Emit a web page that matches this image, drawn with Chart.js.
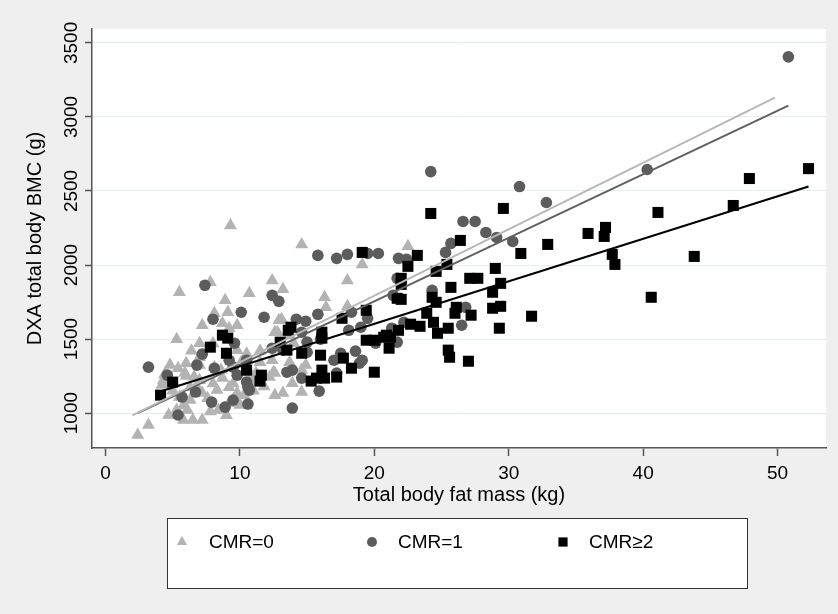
<!DOCTYPE html>
<html>
<head>
<meta charset="UTF-8">
<script src="https://cdn.jsdelivr.net/npm/chart.js@4.4.1/dist/chart.umd.min.js"></script>
<title>BMC vs fat mass</title>
<style>
	body { margin: 0; background: #efefef; }
	#wrap { width: 838px; height: 614px; }
</style>
</head>
<body>
	<div id="wrap">
		<canvas id="scatterChart" width="838" height="614"></canvas>
	</div>
	<script>
		// CMR=0 (triangles)
		var cmr0Fat = [9.3, 5.5, 7.8, 8.9, 9.1, 8.1, 7.2, 9.8, 5.3, 7.0, 8.7, 9.2, 13.1, 12.6, 13.7, 4.8, 6.0, 4.3, 5.9, 7.0,
			7.0, 8.1, 9.8, 10.1, 11.5, 12.6, 13.2, 8.7, 9.2, 9.8, 8.3, 7.2, 6.3, 5.5, 5.3, 6.1, 4.7, 5.8, 6.5, 7.2,
			3.2, 2.4, 8.4, 9.2, 10.0, 12.6, 4.8, 5.4, 6.3, 7.0, 10.7, 11.2, 12.2, 14.6, 19.1, 12.4, 10.7, 13.2, 18.0, 16.3,
			16.4, 18.0, 13.7, 14.6, 13.9, 14.6, 22.5, 12.9, 12.4, 12.5, 14.9, 12.8, 10.7, 11.0, 14.0, 15.0, 4.4, 6.6,
			6.0, 6.8, 7.6, 8.0, 8.6, 9.5, 10.3, 11.0, 11.8, 5.0, 5.8, 7.8, 10.5, 11.5, 6.4, 8.0, 4.2, 9.0];
		var cmr0Bmc = [2267, 1816, 1883, 1762, 1681, 1674, 1593, 1593, 1499, 1472, 1607, 1573, 1634, 1546, 1526, 1324, 1337, 1222, 1270, 1377,
			1324, 1310, 1425, 1344, 1344, 1270, 1135, 1236, 1175, 1135, 1155, 1135, 1088, 1108, 1020, 1020, 987, 953, 953, 953,
			919, 852, 1020, 1067, 1054, 1121, 1209, 1303, 1175, 1222, 1209, 1270, 1243, 2139, 2004, 1896, 1809, 1836, 1896, 1782,
			1714, 1721, 1344, 1290, 1202, 1142, 2126, 1627, 1357, 1276, 1324, 1546, 1276, 1222, 1472, 1425, 1260, 1245,
			1250, 1180, 1100, 1200, 1290, 1200, 1120, 1150, 1180, 1150, 1050, 1010, 1400, 1420, 1420, 1470, 1190, 985];

		// CMR=1 (circles)
		var cmr1Fat = [50.8, 40.3, 32.8, 30.8, 24.2, 26.6, 27.5, 28.3, 29.1, 30.3, 25.7, 25.3, 20.3, 19.5, 18.0, 17.2, 15.8, 21.8, 22.4, 12.4,
			12.9, 10.1, 11.8, 14.2, 14.9, 15.8, 18.3, 19.5, 24.3, 26.8, 26.5, 22.2, 21.3, 21.7, 21.4, 21.7, 14.6, 15.0, 16.0, 18.1,
			19.0, 20.1, 13.9, 14.6, 15.9, 13.9, 17.0, 17.5, 18.6, 18.9, 17.2, 13.2, 3.2, 7.4, 8.0, 9.6, 7.2, 6.8, 8.1, 4.6,
			10.5, 9.5, 9.2, 9.8, 10.7, 10.5, 10.6, 8.9, 7.9, 6.7, 5.7, 5.4, 12.4, 13.5, 10.6, 9.5, 19.1, 15.0];
		var cmr1Bmc = [3406, 2645, 2422, 2530, 2631, 2294, 2294, 2220, 2186, 2159, 2146, 2085, 2078, 2078, 2072, 2045, 2065, 2045, 2038, 1795,
			1755, 1681, 1647, 1634, 1620, 1667, 1681, 1640, 1829, 1714, 1593, 1613, 1573, 1479, 1795, 1910, 1546, 1479, 1499, 1559,
			1580, 1472, 1290, 1236, 1148, 1034, 1357, 1404, 1418, 1337, 1270, 1425, 1310, 1863, 1634, 1472, 1398, 1324, 1303, 1256,
			1357, 1310, 1357, 1256, 1155, 1209, 1061, 1040, 1074, 1142, 1108, 987, 1438, 1276, 1175, 1088, 1357, 1411];

		// CMR>=2 (squares)
		var cmr2Fat = [4.1, 5.0, 7.8, 8.7, 9.1, 9.0, 10.5, 11.6, 11.5, 13.0, 13.5, 13.6, 16.1, 16.1, 14.6, 16.0, 16.1, 16.3, 15.3, 15.7,
			17.2, 17.7, 18.3, 19.4, 20.0, 20.9, 20.0, 17.6, 19.4, 13.8, 19.1, 24.2, 29.6, 32.9, 30.9, 26.4, 23.2, 22.5, 25.4, 24.6,
			22.0, 22.0, 27.1, 27.7, 29.0, 29.4, 28.8, 25.7, 21.7, 22.0, 24.3, 24.6, 26.1, 26.0, 27.2, 28.8, 29.4, 31.7, 23.9, 24.4,
			22.7, 23.4, 21.8, 21.2, 20.7, 21.1, 24.7, 25.5, 29.3, 25.5, 25.6, 27.0, 52.3, 47.9, 46.7, 41.1, 37.2, 37.1, 35.9, 37.7,
			37.9, 43.8, 40.6];
		var cmr2Bmc = [1121, 1209, 1445, 1526, 1506, 1404, 1290, 1256, 1216, 1479, 1425, 1559, 1546, 1506, 1404, 1391, 1290, 1236, 1216, 1236,
			1243, 1371, 1303, 1492, 1492, 1526, 1276, 1640, 1694, 1580, 2085, 2348, 2382, 2139, 2078, 2166, 2065, 1991, 2004, 1957,
			1910, 1869, 1910, 1910, 1977, 1876, 1816, 1849, 1775, 1768, 1782, 1748, 1714, 1674, 1661, 1708, 1721, 1654, 1674, 1613,
			1600, 1586, 1559, 1512, 1512, 1438, 1539, 1573, 1573, 1425, 1377, 1350, 2651, 2584, 2402, 2355, 2254, 2193, 2213, 2072,
			2004, 2058, 1782];

		// fitted lines (end points)
		var fit0Fat = [2.0, 49.8];
		var fit0Bmc = [985, 3130];
		var fit1Fat = [2.4, 50.8];
		var fit1Bmc = [1000, 3076];
		var fit2Fat = [4.2, 52.3];
		var fit2Bmc = [1149, 2530];

		var xTicks = [0, 10, 20, 30, 40, 50];
		var yTicks = [1000, 1500, 2000, 2500, 3000, 3500];
		var groupLabels = ['CMR=0', 'CMR=1', 'CMR\u22652'];

		var fontFamily = "'Liberation Sans', Arial, Helvetica, sans-serif";

		function toPoints(xs, ys) {
			var pts = [];
			for (var i = 0; i < xs.length; i++) {
				pts.push({ x : xs[i], y : ys[i] });
			}
			return pts;
		}

		// gray page + white plot area
		var backgroundPlugin = {
			id : 'background',
			beforeDraw : function(chart) {
				var ctx = chart.ctx, a = chart.chartArea;
				ctx.save();
				ctx.fillStyle = '#efefef';
				ctx.fillRect(0, 0, chart.width, chart.height);
				ctx.fillStyle = '#ffffff';
				ctx.fillRect(a.left, a.top, a.right - a.left, a.bottom - a.top);
				ctx.restore();
			}
		};

		// rotated y tick labels + boxed legend
		var extrasPlugin = {
			id : 'extras',
			afterDraw : function(chart) {
				var ctx = chart.ctx;
				var yScale = chart.scales.y;
				ctx.save();
				ctx.fillStyle = '#000';
				ctx.font = '19px ' + fontFamily;
				ctx.textAlign = 'center';
				ctx.textBaseline = 'middle';
				yTicks.forEach(function(v) {
					var py = yScale.getPixelForValue(v);
					ctx.save();
					ctx.translate(72, py);
					ctx.rotate(-Math.PI / 2);
					ctx.fillText(String(v), 0, 0);
					ctx.restore();
				});

				// legend box
				ctx.fillStyle = '#ffffff';
				ctx.fillRect(167.5, 518.5, 580, 70);
				ctx.strokeStyle = '#333';
				ctx.lineWidth = 1;
				ctx.strokeRect(167.5, 518.5, 580, 70);

				var markX = [182, 372, 563];
				var textX = [209, 398, 589];
				var markR = [6, 5, 6.5];
				for (var i = 0; i < 3; i++) {
					var ds = chart.data.datasets[i];
					ctx.fillStyle = ds.pointBackgroundColor;
					Chart.helpers.drawPoint(ctx, {
						pointStyle : ds.pointStyle,
						radius : markR[i],
						rotation : 0,
						borderWidth : 0
					}, markX[i], 542);
					ctx.fillStyle = '#000';
					ctx.textAlign = 'left';
					ctx.font = '19px ' + fontFamily;
					ctx.fillText(ds.label, textX[i], 543);
				}
				ctx.restore();
			}
		};

		var ctxS = document.getElementById('scatterChart').getContext('2d');
		var chart = new Chart(ctxS, {
			type : 'scatter',
			data : {
				datasets : [ {
					label : groupLabels[0],
					data : toPoints(cmr0Fat, cmr0Bmc),
					pointStyle : 'triangle',
					pointRadius : 7.5,
					pointBackgroundColor : '#b3b3b3',
					pointBorderWidth : 0,
					order : 4
				}, {
					label : groupLabels[1],
					data : toPoints(cmr1Fat, cmr1Bmc),
					pointStyle : 'circle',
					pointRadius : 5.8,
					pointBackgroundColor : '#5c5c5c',
					pointBorderWidth : 0,
					order : 3
				}, {
					label : groupLabels[2],
					data : toPoints(cmr2Fat, cmr2Bmc),
					pointStyle : 'rect',
					pointRadius : 7.8,
					pointBackgroundColor : '#000000',
					pointBorderWidth : 0,
					order : 2
				}, {
					label : 'fit0',
					data : toPoints(fit0Fat, fit0Bmc),
					showLine : true,
					pointRadius : 0,
					borderColor : '#b8b8b8',
					borderWidth : 2,
					order : 1
				}, {
					label : 'fit1',
					data : toPoints(fit1Fat, fit1Bmc),
					showLine : true,
					pointRadius : 0,
					borderColor : '#606060',
					borderWidth : 2,
					order : 1
				}, {
					label : 'fit2',
					data : toPoints(fit2Fat, fit2Bmc),
					showLine : true,
					pointRadius : 0,
					borderColor : '#000000',
					borderWidth : 2,
					order : 0
				} ]
			},
			options : {
				responsive : false,
				animation : false,
				layout : {
					padding : { top : 29, right : 12, left : 0, bottom : 106 }
				},
				plugins : {
					legend : { display : false },
					tooltip : { enabled : false }
				},
				scales : {
					x : {
						type : 'linear',
						min : -1.0,
						max : 53.6,
						afterBuildTicks : function(scale) {
							scale.ticks = xTicks.map(function(v) { return { value : v }; });
						},
						afterFit : function(scale) { scale.height = 60; },
						grid : {
							drawOnChartArea : false,
							drawTicks : true,
							tickLength : 8,
							tickColor : '#555',
							tickWidth : 1.5
						},
						border : { display : true, color : '#555', width : 1.5 },
						ticks : {
							color : '#000',
							padding : 6,
							font : { family : fontFamily, size : 19 }
						},
						title : {
							display : true,
							text : 'Total body fat mass (kg)',
							color : '#000',
							padding : { top : 0, bottom : 1 },
							font : { family : fontFamily, size : 20 }
						}
					},
					y : {
						type : 'linear',
						min : 764,
						max : 3594,
						afterBuildTicks : function(scale) {
							scale.ticks = yTicks.map(function(v) { return { value : v }; });
						},
						afterFit : function(scale) { scale.width = 92; },
						grid : {
							color : '#e2eff2',
							lineWidth : 1,
							drawTicks : true,
							tickLength : 7,
							tickColor : '#555',
							tickWidth : 1.5
						},
						border : { display : true, color : '#555', width : 1.5 },
						ticks : { display : false },
						title : {
							display : true,
							text : 'DXA total body BMC (g)',
							color : '#000',
							padding : { top : 23, bottom : 0 },
							font : { family : fontFamily, size : 20 }
						}
					}
				}
			},
			plugins : [ backgroundPlugin, extrasPlugin ]
		});
	</script>
</body>
</html>
